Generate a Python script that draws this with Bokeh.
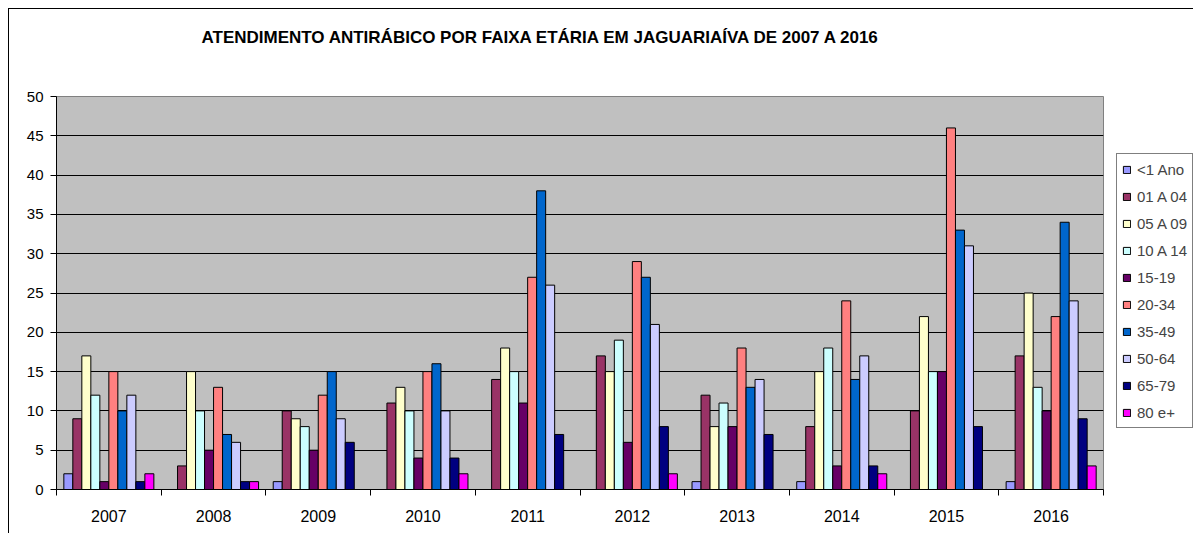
from bokeh.plotting import figure
from bokeh.models import (ColumnDataSource, Range1d, FixedTicker, Legend, LegendItem, Row, Title)
from bokeh.embed import file_html
from bokeh.resources import INLINE

years = ["2007", "2008", "2009", "2010", "2011", "2012", "2013", "2014", "2015", "2016"]
groups = ["<1 Ano", "01 A 04", "05 A 09", "10 A 14", "15-19", "20-34", "35-49", "50-64", "65-79", "80 e+"]
colors = ["#9999FF", "#993366", "#FFFFCC", "#CCFFFF", "#660066", "#FF8080", "#0066CC", "#CCCCFF", "#000080", "#FF00FF"]

v_lt1 = [2, 0, 1, 0, 0, 0, 1, 1, 0, 1]
v_01_04 = [9, 3, 10, 11, 14, 17, 12, 8, 10, 17]
v_05_09 = [17, 15, 9, 13, 18, 15, 8, 15, 22, 25]
v_10_14 = [12, 10, 8, 10, 15, 19, 11, 18, 15, 13]
v_15_19 = [1, 5, 5, 4, 11, 6, 8, 3, 15, 10]
v_20_34 = [15, 13, 12, 15, 27, 29, 18, 24, 46, 22]
v_35_49 = [10, 7, 15, 16, 38, 27, 13, 14, 33, 34]
v_50_64 = [12, 6, 9, 10, 26, 21, 14, 17, 31, 24]
v_65_79 = [1, 1, 6, 4, 7, 8, 7, 3, 8, 9]
v_80 = [2, 1, 0, 2, 0, 2, 0, 2, 0, 3]
series = [v_lt1, v_01_04, v_05_09, v_10_14, v_15_19, v_20_34, v_35_49, v_50_64, v_65_79, v_80]

TITLE = "ATENDIMENTO ANTIRÁBICO POR FAIXA ETÁRIA EM JAGUARIAÍVA DE 2007 A 2016"
FONT = "Liberation Sans"

p = figure(width=1095, height=524, output_backend="svg", toolbar_location=None,
           x_range=Range1d(0, len(years)), y_range=Range1d(0, 50),
           min_border_left=47, min_border_right=1, min_border_top=87, min_border_bottom=44)
p.background_fill_color = "#C0C0C0"
p.border_fill_color = "white"
p.outline_line_color = "#808080"
p.outline_line_width = 1

# real title, then a spacer title (added later -> closer to the frame)
p.title.text = TITLE
p.title.text_font = FONT
p.title.text_font_size = "17px"
p.title.text_font_style = "bold"
p.title.text_color = "black"
p.title.align = "left"
p.title.offset = 145
p.title.standoff = 0
p.title.vertical_align = "bottom"
p.add_layout(Title(text=" ", text_font_size="1px", standoff=47), "above")

bw = 0.086
for j, (name, vals, col) in enumerate(zip(groups, series, colors)):
    xs = [i + 0.5 + (j - 4.5) * bw for i in range(len(years))]
    src = ColumnDataSource(dict(x=xs, top=vals))
    p.vbar(x="x", top="top", width=bw, bottom=0, source=src,
           fill_color=col, line_color="black", line_width=1)

# grid
p.xgrid.visible = False
p.ygrid.grid_line_color = "black"
p.ygrid.grid_line_width = 1
p.ygrid.ticker = FixedTicker(ticks=list(range(0, 51, 5)))

# y axis
p.yaxis.ticker = FixedTicker(ticks=list(range(0, 51, 5)))
p.yaxis.major_tick_out = 6
p.yaxis.major_tick_in = 0
p.yaxis.minor_tick_out = 0
p.yaxis.major_label_standoff = 7
p.yaxis.major_label_text_font = FONT
p.yaxis.major_label_text_font_size = "15px"
p.yaxis.major_label_text_color = "black"
p.yaxis.axis_line_color = "black"

# x axis
centers = [i + 0.5 for i in range(len(years))]
p.xaxis.ticker = FixedTicker(ticks=centers, minor_ticks=list(range(len(years) + 1)))
p.xaxis.major_label_overrides = {c: y for c, y in zip(centers, years)}
p.xaxis.major_tick_out = 0
p.xaxis.major_tick_in = 0
p.xaxis.minor_tick_out = 6
p.xaxis.minor_tick_in = 0
p.xaxis.minor_tick_line_color = "black"
p.xaxis.major_label_standoff = 14
p.xaxis.major_label_text_font = FONT
p.xaxis.major_label_text_font_size = "16px"
p.xaxis.major_label_text_color = "black"
p.xaxis.axis_line_color = "black"

# legend panel (separate small figure so the legend is not clipped)
p2 = figure(width=89, height=524, output_backend="svg", toolbar_location=None,
            x_range=Range1d(0, 1), y_range=Range1d(0, 1),
            x_axis_type=None, y_axis_type=None,
            min_border_left=0, min_border_right=0, min_border_top=0, min_border_bottom=0)
p2.outline_line_color = None
p2.background_fill_color = "white"
p2.border_fill_color = "white"
p2.grid.visible = False
items = []
for name, col in zip(groups, colors):
    # proxy bar kept outside the visible range; only its style is used by the legend
    r = p2.vbar(x=[5], top=[1], width=0.1, fill_color=col, line_color="black", line_width=1)
    items.append(LegendItem(label=name, renderers=[r]))

legend = Legend(items=items, location=(12, 61), orientation="vertical",
                label_text_font=FONT, label_text_font_size="15px",
                glyph_width=9, glyph_height=9, label_height=20, spacing=7,
                label_standoff=6, padding=5, margin=0,
                border_line_color="black", border_line_width=1,
                background_fill_color="white", background_fill_alpha=1)
p2.add_layout(legend, "center")

layout = Row(children=[p, p2], styles={"margin-left": "8px", "margin-top": "8px",
                                      "border-left": "1px solid black",
                                      "border-top": "1px solid black"})

open("out.html", "w").write(file_html(layout, INLINE))
